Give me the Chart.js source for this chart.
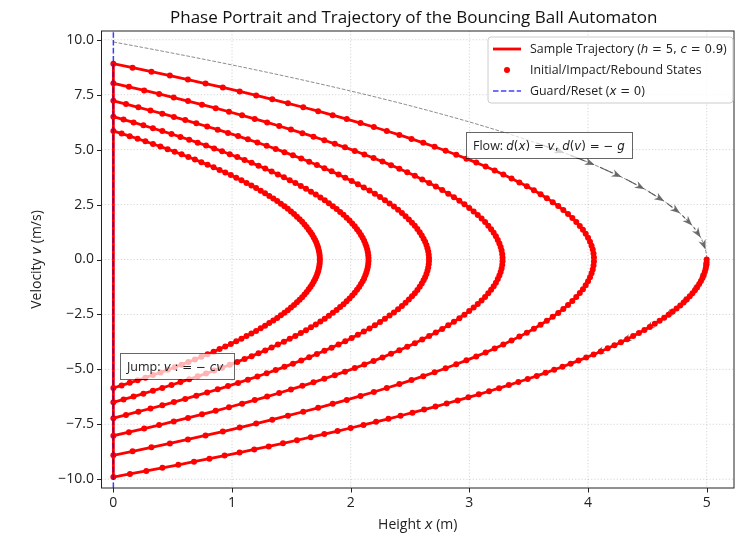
<!DOCTYPE html>
<html>
<head>
<meta charset="utf-8">
<script src="https://cdn.jsdelivr.net/npm/chart.js@4/dist/chart.umd.min.js"></script>
<style>
  html, body { margin: 0; padding: 0; background: #ffffff; }
  canvas { display: block; }
</style>
</head>
<body>
<canvas id="phase" width="738" height="535"></canvas>
<script>
// ---- data -------------------------------------------------------------
// apex height of each flight segment (m) and the speed at which it reaches the floor (m/s)
const apexHeights   = [5.00, 4.05, 3.28, 2.66, 2.15, 1.74];
const floorSpeeds   = [9.90, 8.91, 8.02, 7.22, 6.50, 5.85];
// recorded states per flight segment
const statesPerSegment = [72, 100, 100, 100, 100, 100];
// flow arrows along the level set of the released ball: velocity at each arrow tip
const flowArrowVelocities = [4.85, 4.3, 3.75, 3.2, 2.65, 2.1, 1.55, 1.0, 0.45,
                             -0.6, -1.1, -1.6, -2.1, -2.65, -3.2, -3.75, -4.3];
const xTickValues = [0, 1, 2, 3, 4, 5];
const yTickValues = [-10, -7.5, -5, -2.5, 0, 2.5, 5, 7.5, 10];

const BASE_FONT = '"Open Sans", "DejaVu Sans", sans-serif';
const MATH_FONT = '"DejaVu Sans", sans-serif';

// ---- derived point lists ---------------------------------------------
// a flight with apex h and floor speed s follows x = h * (1 - (v/s)^2)
function onLevelSet(h, s, v) {
  return Math.max(0, h * (1 - (v / s) * (v / s)));
}

const trajectory = [];
apexHeights.forEach((h, k) => {
  const s = floorSpeeds[k];
  const n = statesPerSegment[k];
  const vStart = k === 0 ? 0 : s;   // first segment starts from rest at the release height
  for (let i = 0; i < n; i++) {
    const v = vStart + (-s - vStart) * i / (n - 1);
    trajectory.push({ x: onLevelSet(h, s, v), y: v });
  }
});

// dashed level set of the released ball (upper branch)
const envelope = [];
for (let i = 0; i <= 80; i++) {
  const v = floorSpeeds[0] * (1 - i / 80);
  envelope.push({ x: onLevelSet(apexHeights[0], floorSpeeds[0], v), y: v });
}

const guardLine = [{ x: 0, y: -10.4 }, { x: 0, y: 10.4 }];

// ---- text helper: runs of normal / math-italic / math-upright text ----
function fontFor(style, size) {
  if (style === 'i') return `italic ${size}px ${MATH_FONT}`;
  if (style === 'm') return `${size}px ${MATH_FONT}`;
  return `${size}px ${BASE_FONT}`;
}
function drawRich(ctx, parts, x, y, align, size, color) {
  let w = 0;
  parts.forEach(([t, st]) => { ctx.font = fontFor(st, st === 'n' ? size : size * 0.95); w += ctx.measureText(t).width; });
  let cx = align === 'center' ? x - w / 2 : (align === 'right' ? x - w : x);
  ctx.textAlign = 'left';
  ctx.textBaseline = 'alphabetic';
  ctx.fillStyle = color || '#222';
  parts.forEach(([t, st]) => {
    ctx.font = fontFor(st, st === 'n' ? size : size * 0.95);
    ctx.fillText(t, cx, y);
    cx += ctx.measureText(t).width;
  });
  return w;
}

// ---- decorations drawn around the datasets ---------------------------
const decor = {
  id: 'decor',
  beforeDatasetsDraw(chart) {
    const { ctx, chartArea: a, scales: { x, y } } = chart;
    ctx.save();
    ctx.strokeStyle = 'rgba(0,0,0,0.22)';
    ctx.lineWidth = 0.8;
    ctx.setLineDash([1.2, 2]);
    xTickValues.forEach(v => {
      const px = x.getPixelForValue(v);
      ctx.beginPath(); ctx.moveTo(px, a.top); ctx.lineTo(px, a.bottom); ctx.stroke();
    });
    yTickValues.forEach(v => {
      const py = y.getPixelForValue(v);
      ctx.beginPath(); ctx.moveTo(a.left, py); ctx.lineTo(a.right, py); ctx.stroke();
    });
    ctx.restore();
  },
  afterDatasetDraw(chart, args) {
    if (args.index !== 0) return;
    // flow direction arrows along the released-ball level set
    const { ctx, scales: { x, y } } = chart;
    const h = apexHeights[0], s = floorSpeeds[0];
    ctx.save();
    ctx.strokeStyle = 'rgba(75,75,75,0.8)';
    ctx.fillStyle = 'rgba(75,75,75,0.8)';
    ctx.lineWidth = 1.2;
    flowArrowVelocities.forEach(v => {
      const tipX = x.getPixelForValue(onLevelSet(h, s, v));
      const tipY = y.getPixelForValue(v);
      const tailV = v + 0.45;
      const tailX = x.getPixelForValue(onLevelSet(h, s, tailV));
      const tailY = y.getPixelForValue(tailV);
      const dx = tipX - tailX, dy = tipY - tailY;
      const len = Math.hypot(dx, dy) || 1;
      const ux = dx / len, uy = dy / len;
      const headL = 10, headW = 3.8;
      ctx.beginPath(); ctx.moveTo(tailX, tailY); ctx.lineTo(tipX - ux * headL, tipY - uy * headL); ctx.stroke();
      ctx.beginPath();
      ctx.moveTo(tipX, tipY);
      ctx.lineTo(tipX - ux * headL - uy * headW, tipY - uy * headL + ux * headW);
      ctx.lineTo(tipX - ux * headL * 0.7, tipY - uy * headL * 0.7);
      ctx.lineTo(tipX - ux * headL + uy * headW, tipY - uy * headL - ux * headW);
      ctx.closePath();
      ctx.fill();
    });
    ctx.restore();
  },
  afterDatasetsDraw(chart) {
    const { ctx, chartArea: a, scales: { x, y } } = chart;
    ctx.save();
    // annotation boxes
    const box = (x0, y0, w, hgt) => {
      ctx.fillStyle = 'rgba(255,255,255,0.7)';
      ctx.fillRect(x0, y0, w, hgt);
      ctx.strokeStyle = 'rgba(0,0,0,0.6)';
      ctx.lineWidth = 1;
      ctx.strokeRect(x0 + 0.5, y0 + 0.5, w, hgt);
    };
    box(466, 132, 166, 26);
    drawRich(ctx, [['Flow: ', 'n'], ['d', 'i'], ['(', 'm'], ['x', 'i'], [')', 'm'], [' = ', 'm'], ['v', 'i'],
                   [', ', 'm'], ['d', 'i'], ['(', 'm'], ['v', 'i'], [')', 'm'], [' = ', 'm'], ['− ', 'm'], ['g', 'i']],
             473, 150, 'left', 12.5);
    box(120, 353, 114, 26);
    drawRich(ctx, [['Jump: ', 'n'], ['v', 'i'], [' : ', 'm'], ['= ', 'm'], ['− ', 'm'], ['c', 'i'], ['v', 'i']],
             127, 371, 'left', 12.5);

    // frame
    ctx.strokeStyle = '#222';
    ctx.lineWidth = 1;
    ctx.strokeRect(a.left, a.top, a.right - a.left, a.bottom - a.top);
    // tick marks
    ctx.beginPath();
    xTickValues.forEach(v => {
      const px = Math.round(x.getPixelForValue(v)) + 0.5;
      ctx.moveTo(px, a.bottom); ctx.lineTo(px, a.bottom + 4.5);
    });
    yTickValues.forEach(v => {
      const py = Math.round(y.getPixelForValue(v)) + 0.5;
      ctx.moveTo(a.left, py); ctx.lineTo(a.left - 4.5, py);
    });
    ctx.stroke();
    ctx.restore();
  },
  afterDraw(chart) {
    const { ctx, chartArea: a } = chart;
    ctx.save();
    const cx = (a.left + a.right) / 2;
    // title
    drawRich(ctx, [['Phase Portrait and Trajectory of the Bouncing Ball Automaton', 'n']], cx - 4, 23, 'center', 17, '#111');
    // axis titles
    drawRich(ctx, [['Height ', 'n'], ['x', 'i'], [' (m)', 'n']], cx, 529, 'center', 14);
    ctx.translate(41, (a.top + a.bottom) / 2);
    ctx.rotate(-Math.PI / 2);
    drawRich(ctx, [['Velocity ', 'n'], ['v', 'i'], [' (m/s)', 'n']], 0, 0, 'center', 14);
    ctx.restore();

    // legend
    ctx.save();
    const lx = 488, ly = 37, lw = 245, lh = 66, r = 3;
    ctx.beginPath();
    ctx.moveTo(lx + r, ly);
    ctx.arcTo(lx + lw, ly, lx + lw, ly + lh, r);
    ctx.arcTo(lx + lw, ly + lh, lx, ly + lh, r);
    ctx.arcTo(lx, ly + lh, lx, ly, r);
    ctx.arcTo(lx, ly, lx + lw, ly, r);
    ctx.closePath();
    ctx.fillStyle = 'rgba(255,255,255,0.8)';
    ctx.fill();
    ctx.strokeStyle = '#cccccc';
    ctx.lineWidth = 1;
    ctx.stroke();

    const rows = [49, 70, 91];
    ctx.strokeStyle = 'red';
    ctx.lineWidth = 2.8;
    ctx.beginPath(); ctx.moveTo(493, rows[0]); ctx.lineTo(521, rows[0]); ctx.stroke();
    ctx.fillStyle = 'red';
    ctx.beginPath(); ctx.arc(507, rows[1], 3, 0, Math.PI * 2); ctx.fill();
    ctx.strokeStyle = 'rgba(0,0,255,0.75)';
    ctx.lineWidth = 1.5;
    ctx.setLineDash([5.5, 2.4]);
    ctx.beginPath(); ctx.moveTo(493, rows[2]); ctx.lineTo(521, rows[2]); ctx.stroke();
    ctx.setLineDash([]);

    drawRich(ctx, [['Sample Trajectory (', 'n'], ['h', 'i'], [' = 5, ', 'm'], ['c', 'i'], [' = 0.9', 'm'], [')', 'n']], 530, rows[0] + 4, 'left', 12.4);
    drawRich(ctx, [['Initial/Impact/Rebound States', 'n']], 530, rows[1] + 4, 'left', 12.4);
    drawRich(ctx, [['Guard/Reset (', 'n'], ['x', 'i'], [' = 0', 'm'], [')', 'n']], 530, rows[2] + 4, 'left', 12.4);
    ctx.restore();
  }
};

// ---- chart ------------------------------------------------------------
const tickFont = { family: BASE_FONT, size: 14 };
new Chart(document.getElementById('phase'), {
  type: 'scatter',
  data: {
    datasets: [
      { data: envelope, showLine: true, borderColor: 'rgba(128,128,128,0.9)', borderWidth: 1,
        borderDash: [3.7, 1.6], pointRadius: 0, order: 3 },
      { data: trajectory, showLine: true, borderColor: '#ff0000', borderWidth: 2.8,
        pointRadius: 3, pointBackgroundColor: '#ff0000', pointBorderWidth: 0, order: 2 },
      { data: guardLine, showLine: true, borderColor: 'rgba(0,0,255,0.75)', borderWidth: 1.5,
        borderDash: [5.5, 2.4], pointRadius: 0, order: 1 }
    ]
  },
  options: {
    responsive: false,
    animation: false,
    devicePixelRatio: 1,
    events: [],
    layout: { padding: { top: 31, right: 1, left: 0, bottom: 0 } },
    plugins: { legend: { display: false }, title: { display: false }, tooltip: { enabled: false } },
    scales: {
      x: {
        type: 'linear', min: -0.1, max: 5.23,
        afterFit: s => { s.height = 47; },
        afterBuildTicks: s => { s.ticks = xTickValues.map(v => ({ value: v })); },
        grid: { display: false, drawTicks: true, tickLength: 4.5 },
        border: { display: false },
        ticks: { font: tickFont, color: '#222', padding: 2, maxRotation: 0, autoSkip: false,
                 callback: v => String(v) }
      },
      y: {
        type: 'linear', min: -10.4, max: 10.4,
        afterFit: s => { s.width = 101.5; },
        afterBuildTicks: s => { s.ticks = yTickValues.map(v => ({ value: v })); },
        grid: { display: false, drawTicks: true, tickLength: 4.5 },
        border: { display: false },
        ticks: { font: tickFont, color: '#222', padding: 3, autoSkip: false,
                 callback: v => (v < 0 ? '−' : '') + Math.abs(v).toFixed(1) }
      }
    }
  },
  plugins: [decor]
});
</script>
</body>
</html>
